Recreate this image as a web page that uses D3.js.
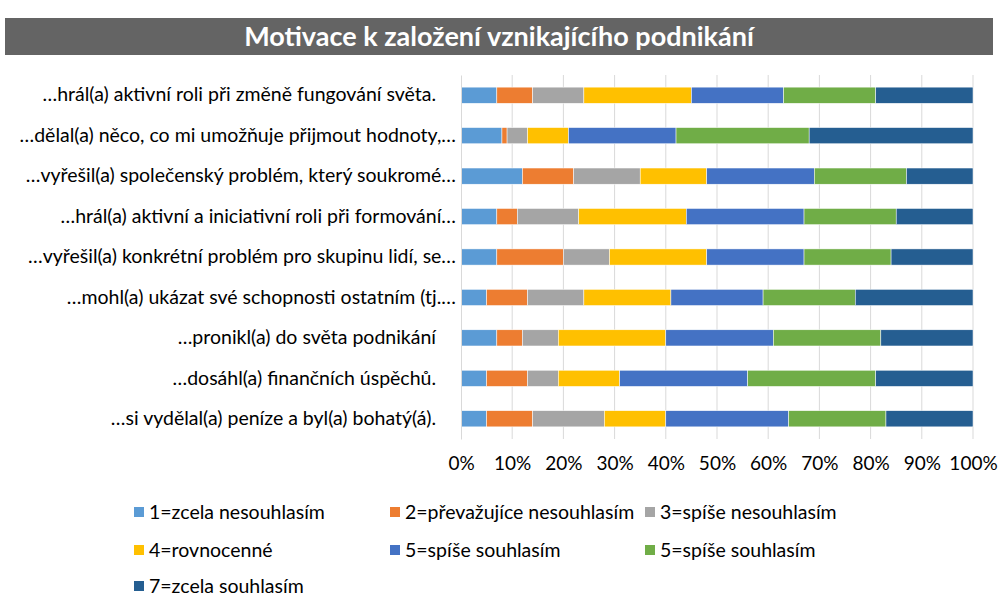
<!DOCTYPE html>
<html>
<head>
<meta charset="utf-8">
<script src="https://cdnjs.cloudflare.com/ajax/libs/d3/7.8.5/d3.min.js"></script>
<style>
  body { margin: 0; background: #fff; }
  text { font-family: Lato, "Open Sans", sans-serif; }
</style>
</head>
<body>
<div id="chart"></div>
<script>
// Chart data (percent shares, top row first)
const categories = [
    "…hrál(a) aktivní roli při změně fungování světa.\u00a0\u00a0\u00a0\u00a0",
    "…dělal(a) něco, co mi umožňuje přijmout hodnoty,…",
    "…vyřešil(a) společenský problém, který soukromé…",
    "…hrál(a) aktivní a iniciativní roli při formování…",
    "…vyřešil(a) konkrétní problém pro skupinu lidí, se…",
    "…mohl(a) ukázat své schopnosti ostatním (tj.…",
    "…pronikl(a) do světa podnikání\u00a0\u00a0\u00a0\u00a0",
    "…dosáhl(a) finančních úspěchů.\u00a0\u00a0\u00a0\u00a0",
    "…si vydělal(a) peníze a byl(a) bohatý(á).\u00a0\u00a0\u00a0\u00a0"
];
const seriesNames = [
    "1=zcela nesouhlasím",
    "2=převažujíce nesouhlasím",
    "3=spíše nesouhlasím",
    "4=rovnocenné",
    "5=spíše souhlasím",
    "5=spíše souhlasím",
    "7=zcela souhlasím"
];
const s1 = [7, 8, 12, 7, 7, 5, 7, 5, 5];
const s2 = [7, 1, 10, 4, 13, 8, 5, 8, 9];
const s3 = [10, 4, 13, 12, 9, 11, 7, 6, 14];
const s4 = [21, 8, 13, 21, 19, 17, 21, 12, 12];
const s5 = [18, 21, 21, 23, 19, 18, 21, 25, 24];
const s6 = [18, 26, 18, 18, 17, 18, 21, 25, 19];
const s7 = [19, 32, 13, 15, 16, 23, 18, 19, 17];
const tickValues = [0, 0.1, 0.2, 0.3, 0.4, 0.5, 0.6, 0.7, 0.8, 0.9, 1];
const colors = ["#5B9BD5", "#ED7D31", "#A5A5A5", "#FFC000", "#4472C4", "#70AD47", "#255E91"];

const width = 999, height = 598;
const svg = d3.select("#chart").append("svg")
    .attr("width", width)
    .attr("height", height);

// Title band
svg.append("rect")
    .attr("x", 5).attr("y", 18)
    .attr("width", 988).attr("height", 37)
    .attr("fill", "#646464");
svg.append("text")
    .attr("x", 499).attr("y", 46)
    .attr("text-anchor", "middle")
    .attr("fill", "#fff")
    .attr("font-size", 27)
    .attr("font-weight", "bold")
    .text("Motivace k založení vznikajícího podnikání");

// Table of rows, normalised to shares
const series = [s1, s2, s3, s4, s5, s6, s7];
const rows = categories.map((c, i) => {
    const r = { cat: c };
    const total = d3.sum(series, s => s[i]);
    series.forEach((s, k) => r["k" + k] = s[i] / total);
    return r;
});
const stacked = d3.stack().keys(series.map((s, k) => "k" + k))(rows);

const x = d3.scaleLinear().domain([0, 1]).range([461, 973]);
const y = d3.scaleBand().domain(categories).range([75, 439]).paddingInner(0.6).paddingOuter(0.3);

// Gridlines
svg.append("g").selectAll("line")
    .data(tickValues.slice(1))
    .join("line")
    .attr("x1", d => x(d)).attr("x2", d => x(d))
    .attr("y1", 75).attr("y2", 439)
    .attr("stroke", "#d9d9d9")
    .attr("stroke-width", 1);

// Bars
svg.append("g").selectAll("g")
    .data(stacked)
    .join("g")
    .attr("fill", (d, i) => colors[i])
    .selectAll("rect")
    .data(d => d)
    .join("rect")
    .attr("x", d => x(d[0]))
    .attr("y", d => y(d.data.cat))
    .attr("width", d => x(d[1]) - x(d[0]))
    .attr("height", y.bandwidth())
    .attr("stroke", "#fff")
    .attr("stroke-width", 0.5);

// Category axis
const yAxis = svg.append("g")
    .attr("transform", "translate(461,0)")
    .call(d3.axisLeft(y).tickSize(0).tickPadding(5));
yAxis.select(".domain").attr("stroke", "#d9d9d9");
yAxis.selectAll("text")
    .attr("font-size", 19.5)
    .attr("fill", "#000")
    .style("white-space", "pre");

// Value axis
const xAxis = svg.append("g")
    .attr("transform", "translate(0,439)")
    .call(d3.axisBottom(x).tickValues(tickValues).tickFormat(d3.format(".0%")).tickSize(0).tickPadding(18));
xAxis.select(".domain").remove();
xAxis.selectAll("text")
    .attr("font-size", 19)
    .attr("fill", "#000");

// Legend
const legendCols = [134, 390, 645];
const legendRows = [513, 551, 587];
const legend = svg.append("g").selectAll("g")
    .data(seriesNames)
    .join("g")
    .attr("transform", (d, i) => `translate(${legendCols[i % 3]},${legendRows[Math.floor(i / 3)]})`);
legend.append("rect")
    .attr("x", 0).attr("y", -6)
    .attr("width", 10).attr("height", 10)
    .attr("fill", (d, i) => colors[i]);
legend.append("text")
    .attr("x", 15).attr("y", 6)
    .attr("font-size", 19.5)
    .attr("fill", "#000")
    .text(d => d);
</script>
</body>
</html>
